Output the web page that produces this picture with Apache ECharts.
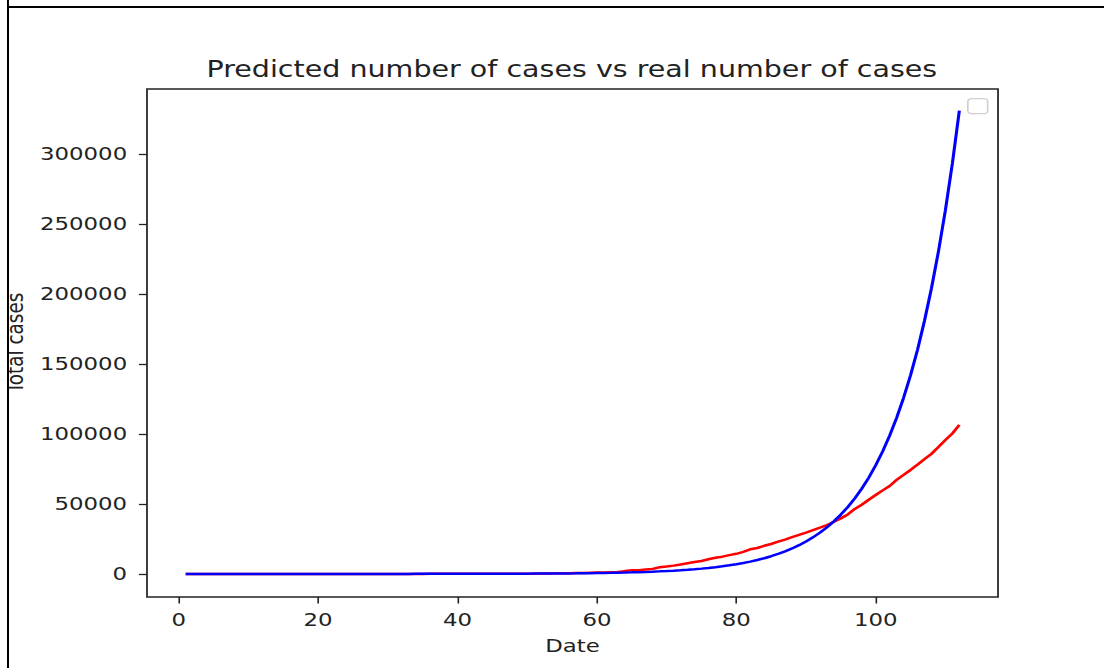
<!DOCTYPE html>
<html>
<head>
<meta charset="utf-8">
<script src="https://cdn.jsdelivr.net/npm/echarts@6/dist/echarts.min.js"></script>
<style>
html,body{margin:0;padding:0;background:#fff;width:1104px;height:668px;overflow:hidden;}
#chart{position:absolute;left:0;top:0;width:890px;height:668px;transform:scaleX(1.2404);transform-origin:0 0;}
#frameL{position:absolute;left:0;top:0;width:7.3px;height:668px;background:#fff;border-right:2.4px solid #000;}
#frameT{position:absolute;left:7px;top:5.5px;width:1100px;height:0;border-top:2.3px solid #000;}
</style>
</head>
<body>
<div id="chart"></div>
<div id="frameL"></div>
<div id="frameT"></div>
<script>
// ---- data ----
const days = [1,2,3,4,5,6,7,8,9,10,11,12,13,14,15,16,17,18,19,20,
  21,22,23,24,25,26,27,28,29,30,31,32,33,34,35,36,37,38,39,40,
  41,42,43,44,45,46,47,48,49,50,51,52,53,54,55,56,57,58,59,60,
  61,62,63,64,65,66,67,68,69,70,71,72,73,74,75,76,77,78,79,80,
  81,82,83,84,85,86,87,88,89,90,91,92,93,94,95,96,97,98,99,100,
  101,102,103,104,105,106,107,108,109,110,111,112];

// real number of cases (red)
const realCases = [0,1,1,1,2,3,
  3,3,3,3,3,3,3,3,3,3,3,3,3,3,3,3,3,3,3,3,3,3,3,3,3,3,3,
  5,5,28,30,31,34,39,43,56,62,
  73,82,102,113,119,142,156,194,244,330,
  396,499,536,657,727,887,987,1024,1251,1397,
  1998,2543,2567,3082,3588,4778,5311,5916,6725,7598,
  8446,9205,10453,11487,12322,13430,14352,15722,17615,18539,
  20080,21370,23077,24530,26283,27890,29451,31324,33062,34863,
  37257,39699,42505,46437,49400,52987,56351,59695,62808,67161,
  70768,74292,78055,81997,85784,90648,95698,100328,106475];

// predicted number of cases (blue)
const predictedCases = [0.5,0.56,0.6,0.7,0.8,0.9,1.0,1.2,1.3,1.5,1.7,1.9,2.1,2.4,2.7,3.0,3.4,3.8,4.3,4.9,
  5.5,6,7,8,9,10,11,13,14,16,
  18,21,23,26,30,34,38,43,48,55,
  62,70,79,89,100,113,128,144,163,184,
  208,234,264,298,337,380,429,484,546,616,
  695,784,885,999,1127,1272,1436,1620,1828,2063,
  2328,2628,2965,3346,3776,4262,4809,5427,6125,6912,
  7800,8802,9933,11210,12651,14277,16112,18183,20520,23157,
  26133,29491,33281,37558,42385,47832,53979,60916,68745,77580,
  87550,98801,111498,125827,141997,160246,180840,204080,230307,259905,
  293306,331000];

const xTicks = [0,20,40,60,80,100];
const yTicks = [0,50000,100000,150000,200000,250000,300000];
const titleText = 'Predicted number of cases vs real number of cases';
const xName = 'Date';
const yName = 'Total cases';

// ---- chart ----
const FONT = 'DejaVu Sans';
const TXT = '#222';
const chart = echarts.init(document.getElementById('chart'), null, {renderer:'svg', width:890, height:668});
const gridLeft = 118.5, gridRight = 85.4;
const option = {
  animation:false,
  backgroundColor:'#fff',
  title:{
    text:titleText,
    left:456,
    textAlign:'center',
    top:53,
    textStyle:{fontFamily:FONT,fontSize:23,fontWeight:'normal',color:TXT}
  },
  grid:{left:gridLeft,right:gridRight,top:89,bottom:71,show:true,borderColor:'#222',borderWidth:1.4,
        backgroundColor:'transparent',outerBoundsMode:'none',containLabel:false},
  xAxis:{
    type:'value',min:-4.55,max:117.55,
    splitLine:{show:false},
    axisLine:{show:false,onZero:false},
    axisTick:{show:true,length:6.5,lineStyle:{color:'#222',width:1.3},customValues:xTicks},
    axisLabel:{customValues:xTicks,margin:14,fontFamily:FONT,fontSize:18.4,color:TXT,formatter:v=>String(v)},
    name:xName,nameLocation:'middle',nameGap:40,
    nameTextStyle:{fontFamily:FONT,fontSize:18.4,color:TXT}
  },
  yAxis:{
    type:'value',min:-16500,max:346500,
    splitLine:{show:false},
    axisLine:{show:false,onZero:false},
    axisTick:{show:true,length:6.5,lineStyle:{color:'#222',width:1.3},customValues:yTicks},
    axisLabel:{customValues:yTicks,margin:16,fontFamily:FONT,fontSize:18.4,color:TXT,formatter:v=>String(v)},
    name:yName,nameLocation:'middle',nameGap:97,
    nameTextStyle:{fontFamily:FONT,fontSize:18.4,color:TXT}
  },
  graphic:[{
    type:'rect',left:779.6,top:98,z:100,
    shape:{width:16,height:15,r:3},
    style:{fill:'rgba(255,255,255,0.8)',stroke:'#cfcfcf',lineWidth:1.3}
  }],
  series:[
    {type:'line',data:days.map((d,i)=>[d,realCases[i]]),showSymbol:false,
     lineStyle:{color:'#ff0000',width:2.5},itemStyle:{color:'#ff0000'}},
    {type:'line',data:days.map((d,i)=>[d,predictedCases[i]]),showSymbol:false,
     lineStyle:{color:'#0000ff',width:2.5},itemStyle:{color:'#0000ff'}}
  ]
};
chart.setOption(option);
</script>
</body>
</html>
